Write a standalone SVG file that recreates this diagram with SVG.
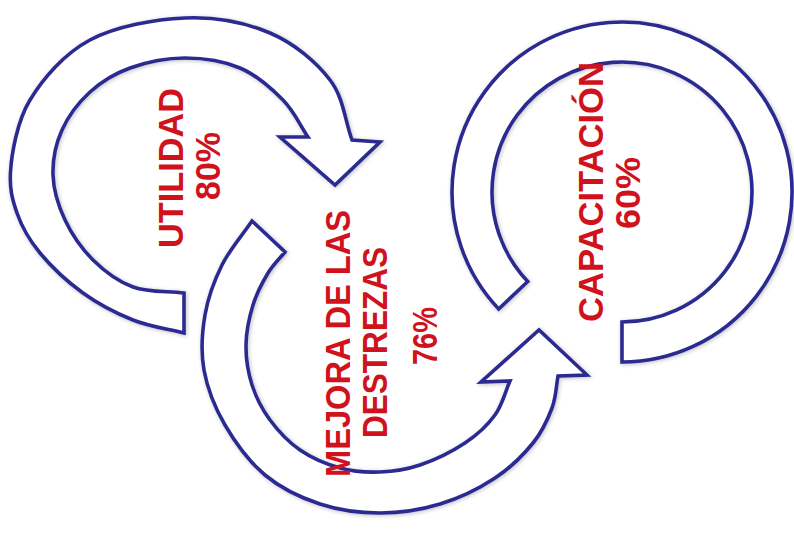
<svg xmlns="http://www.w3.org/2000/svg" width="794" height="536" viewBox="0 0 794 536">
<defs>
<filter id="sh" x="-10%" y="-10%" width="120%" height="120%">
<feGaussianBlur in="SourceAlpha" stdDeviation="2"/>
<feOffset dx="1" dy="1" result="b"/>
<feComponentTransfer><feFuncA type="linear" slope="0.25"/></feComponentTransfer>
<feMerge><feMergeNode/><feMergeNode in="SourceGraphic"/></feMerge>
</filter>
</defs>
<style>
.arr{fill:#ffffff;stroke:#2B2C91;stroke-width:3.6;stroke-linejoin:miter}
.lbl{font-family:"Liberation Sans",Arial,sans-serif;font-weight:bold;font-size:35px;fill:#D0121C;text-anchor:middle}
</style>
<rect width="794" height="536" fill="#ffffff"/>
<g id="connectors">
<path id="arrow-utilidad" class="arr" filter="url(#sh)" d="M184,333 C167,328.7 149.8,326.7 133,320 C116.2,313.3 98.5,304.2 83,293 C67.5,281.8 51,266.3 40,253 C29,239.7 21.8,226.8 17,213 C12.2,199.2 9.5,188.8 10.5,172 C11.5,155 16.8,121.7 30,100 C43.2,78.3 64.2,53.7 90,40 C115.8,26.3 155,19.2 185,18 C215,16.8 245.8,22.7 270,33 C294.2,43.3 316.3,62.2 330,80 C343.7,97.8 344.7,120 352,140 L380,142 L335,185 L280,137 L308,137 C299.7,124.7 294.3,111.5 283,100 C271.7,88.5 256.3,75 240,68 C223.7,61 203.3,58 185,58 C166.7,58 145.8,62.3 130,68 C114.2,73.7 101.3,81.7 90,92 C78.7,102.3 68.2,116.2 62,130 C55.8,143.8 52.5,160 53,175 C53.5,190 58.3,205.8 65,220 C71.7,234.2 81.7,248.8 93,260 C104.3,271.2 117.8,281.5 133,287 C148.2,292.5 167,291 184,293 Z"/>
<path id="arrow-mejora" class="arr" filter="url(#sh)" d="M252,221 C242,235.7 229.8,249.3 222,265 C214.2,280.7 208,297.5 205,315 C202,332.5 200.7,351.7 204,370 C207.3,388.3 214.8,407.5 225,425 C235.2,442.5 249.2,461.8 265,475 C280.8,488.2 300.8,497.7 320,504 C339.2,510.3 360,513 380,513 C400,513 420.8,509.8 440,504 C459.2,498.2 479.5,488.2 495,478 C510.5,467.8 523.5,454.7 533,443 C542.5,431.3 547.8,419.2 552,408 C556.2,396.8 556,386.7 558,376 L587,375 L539,330 L481,382 L510,381 C505,392.3 502.5,404.7 495,415 C487.5,425.3 477.5,434.7 465,443 C452.5,451.3 434.2,460.2 420,465 C405.8,469.8 393.3,471.5 380,472 C366.7,472.5 353.3,471.7 340,468 C326.7,464.3 311.7,458 300,450 C288.3,442 278,430.8 270,420 C262,409.2 256,397.5 252,385 C248,372.5 245.8,358.3 246,345 C246.2,331.7 249.3,317 253,305 C256.7,293 262.7,281.8 268,273 C273.3,264.2 279.3,259 285,252 Z"/>
<path id="arrow-capacitacion" class="arr" filter="url(#sh)" d="M622,362 A170,170 0 1 0 498.7,309 L527.7,281.5 A130,130 0 1 1 622,322 Z"/>
</g>
<g id="node-utilidad">
<text class="lbl" transform="translate(183,168) rotate(-90)" textLength="160" lengthAdjust="spacingAndGlyphs">UTILIDAD</text>
<text class="lbl" transform="translate(220,166) rotate(-90)" textLength="68" lengthAdjust="spacingAndGlyphs">80%</text>
</g>
<g id="node-mejora">
<text class="lbl" transform="translate(350,343.5) rotate(-90)" textLength="267" lengthAdjust="spacingAndGlyphs">MEJORA DE LAS</text>
<text class="lbl" transform="translate(387,342.5) rotate(-90)" textLength="191" lengthAdjust="spacingAndGlyphs">DESTREZAS</text>
<text class="lbl" transform="translate(437,336) rotate(-90)" textLength="58" lengthAdjust="spacingAndGlyphs">76%</text>
</g>
<g id="node-capacitacion">
<text class="lbl" transform="translate(603,192) rotate(-90)" textLength="260" lengthAdjust="spacingAndGlyphs">CAPACITACIÓN</text>
<text class="lbl" transform="translate(640,193) rotate(-90)" textLength="72" lengthAdjust="spacingAndGlyphs">60%</text>
</g>
</svg>
